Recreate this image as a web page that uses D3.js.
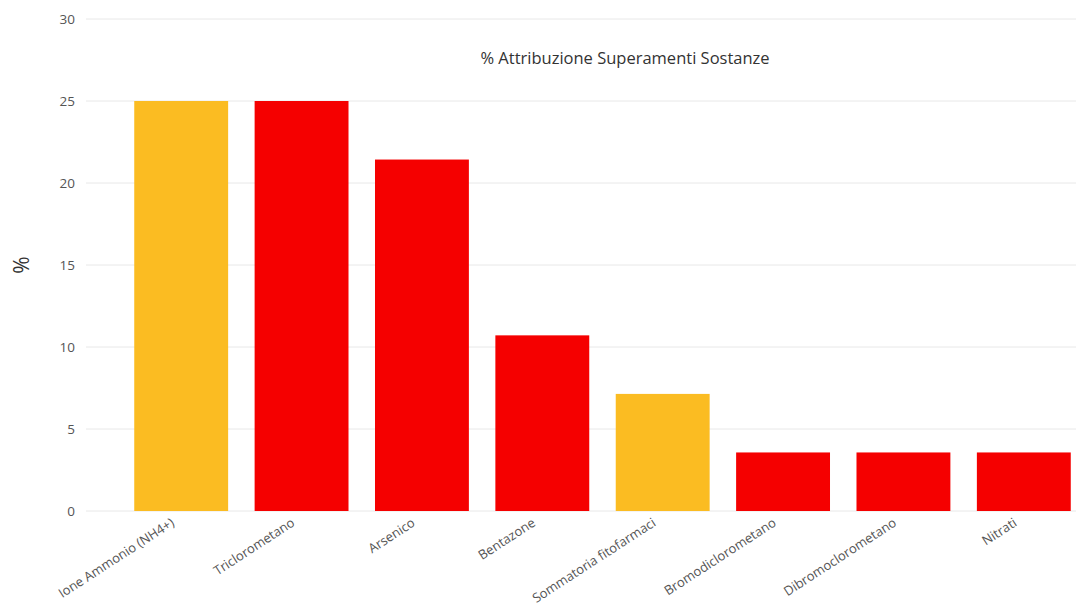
<!DOCTYPE html>
<html><head><meta charset="utf-8">
<script src="https://cdn.jsdelivr.net/npm/d3@7"></script>
<style>body{margin:0;background:#fff;}svg{display:block;font-family:"Open Sans","Noto Sans",sans-serif;}</style>
</head><body>
<svg id="c" width="1076" height="607"></svg>
<script>
const categories = ["Ione Ammonio (NH4+)","Triclorometano","Arsenico","Bentazone","Sommatoria fitofarmaci","Bromodiclorometano","Dibromoclorometano","Nitrati"];
const values = [25, 25, 21.43, 10.71, 7.14, 3.57, 3.57, 3.57];
const colorsBy = ["#FBBC22","#F50000","#F50000","#F50000","#FBBC22","#F50000","#F50000","#F50000"];
const yTicks = [0,5,10,15,20,25,30];
const title = "% Attribuzione Superamenti Sostanze";
const yLabel = "%";

const svg = d3.select("#c");
const y = d3.scaleLinear().domain([0,30]).range([511,19]);
const x = d3.scaleBand().domain(categories).range([121,1084]).paddingInner(0.22).paddingOuter(0.11);

svg.append("g").selectAll("line").data(yTicks).join("line")
  .attr("x1",86).attr("x2",1076).attr("y1",d=>y(d)).attr("y2",d=>y(d))
  .attr("stroke","#e8e8e8").attr("stroke-width",1);

const ya = svg.append("g").attr("transform","translate(86,0)")
  .call(d3.axisLeft(y).tickValues(yTicks).tickSize(0).tickPadding(11));
ya.select(".domain").remove();
ya.selectAll("text").attr("font-size",13.5).attr("fill","#555").attr("font-family","'Open Sans','Noto Sans',sans-serif");

svg.append("g").selectAll("rect").data(values).join("rect")
  .attr("x",(d,i)=>x(categories[i])).attr("width",x.bandwidth())
  .attr("y",d=>y(d)).attr("height",d=>y(0)-y(d))
  .attr("fill",(d,i)=>colorsBy[i]);

const xa = svg.append("g").attr("transform","translate(0,511)")
  .call(d3.axisBottom(x).tickSize(0).tickPadding(0));
xa.select(".domain").remove();
xa.selectAll("text").attr("font-size",13).attr("fill","#555")
  .attr("font-family","'Open Sans','Noto Sans',sans-serif")
  .attr("text-anchor","end").attr("dy",0)
  .attr("transform","translate(-6,14) rotate(-33)");

svg.append("text").attr("x",625).attr("y",64).attr("text-anchor","middle")
  .attr("font-size",16.5).attr("fill","#333").text(title);
svg.append("text").attr("transform","translate(29,265) rotate(-90)").attr("text-anchor","middle")
  .attr("font-size",21).attr("fill","#333").text(yLabel);
</script>
</body></html>
